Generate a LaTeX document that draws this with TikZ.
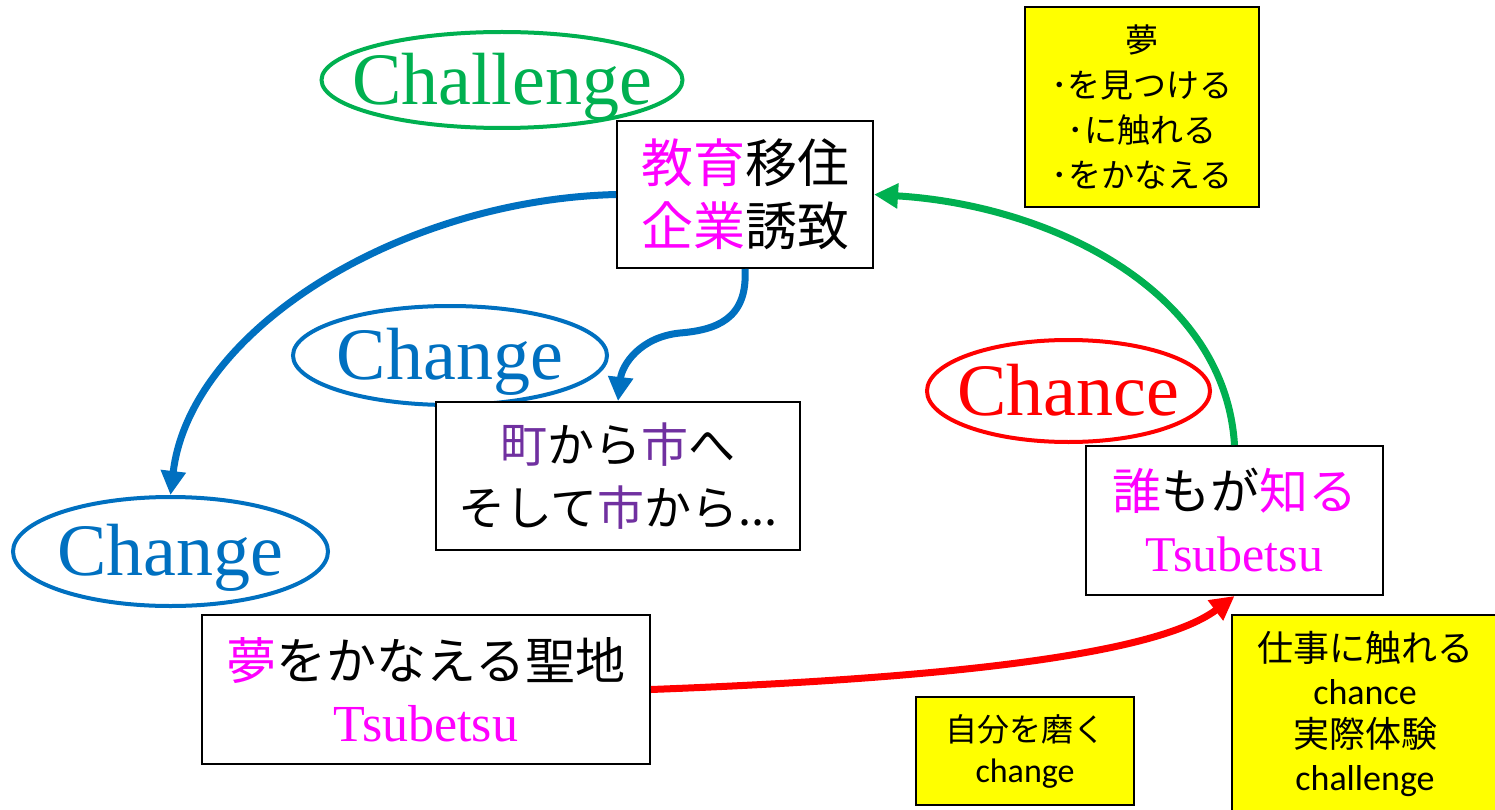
\documentclass[tikz,border=0pt]{standalone}
\usepackage{fontspec}
\setmainfont{Noto Sans CJK JP}
\newfontfamily\romanfont{Liberation Serif}
\newfontfamily\calfont{Carlito}
\usetikzlibrary{shapes.geometric,arrows.meta}
\definecolor{oGreen}{RGB}{0,176,80}
\definecolor{oBlue}{RGB}{0,112,192}
\definecolor{oRed}{RGB}{255,0,0}
\definecolor{oPink}{RGB}{255,0,255}
\definecolor{oPurple}{RGB}{112,48,160}
\definecolor{oYellow}{RGB}{255,255,0}
\newcommand{\pk}[1]{\textcolor{oPink}{#1}}
\newcommand{\pp}[1]{\textcolor{oPurple}{#1}}
% text that does not widen the ellipse around it
\newcommand{\ovaltext}[1]{\makebox[0pt]{\smash{\raisebox{-0.33em}{#1}}}}

\begin{document}
\begin{tikzpicture}[x=1pt, y=-1pt,
    box/.style={draw, line width=2pt, fill=white, inner sep=0pt, align=center},
    memo/.style={draw, line width=1.5pt, fill=oYellow, inner sep=0pt, align=center},
    oval/.style={draw, ellipse, line width=4pt, inner sep=0pt, font=\romanfont\fontsize{74}{74}\selectfont},
    flow/.style={line width=7pt, -{Triangle[length=24pt,width=24pt]}}]
			\clip (0,0) rectangle (1495,810);
			
			\node[oval, oGreen, minimum width=361pt, minimum height=96pt] (challenge) at (502,80) {\ovaltext{Challenge}};
			\node[box, minimum width=256pt, minimum height=147pt, font=\fontsize{52}{63}\selectfont] (kyoiku) at (745,194.5) {\pk{教育}移住\\\pk{企業}誘致};
			
			\node[oval, oBlue, minimum width=314pt, minimum height=99pt] (change1) at (450,355.5) {\ovaltext{Change}};
			\node[box, minimum width=364pt, minimum height=148pt, font=\fontsize{47}{63}\selectfont] (machi) at (618,476) {\pp{町}から\pp{市}へ\\そして\pp{市}から...};
			
			\node[oval, oBlue, minimum width=315pt, minimum height=109pt] (change2) at (170.5,551.5) {\ovaltext{Change}};
			\node[box, minimum width=448pt, minimum height=149pt, font=\fontsize{50}{62}\selectfont] (seichi) at (426,689.5) {\pk{夢}をかなえる聖地\\{\romanfont\fontsize{52}{62}\selectfont\color{oPink}Tsubetsu}};
			
			\node[oval, oRed, minimum width=283pt, minimum height=102pt] (chance) at (1068.5,391) {\ovaltext{Chance}};
			\node[box, minimum width=297pt, minimum height=149pt, font=\fontsize{49}{62}\selectfont] (dare) at (1234.5,520.5) {\pk{誰}もが\pk{知る}\\{\romanfont\fontsize{50}{62}\selectfont\color{oPink}Tsubetsu}};
			
			\node[memo, minimum width=234pt, minimum height=200pt, font=\fontsize{33}{45}\selectfont] (yume) at (1142,107) {夢\\･を見つける\\･に触れる\\･をかなえる};
			\node[memo, minimum width=218pt, minimum height=108pt, font=\fontsize{32}{41}\selectfont] (migaku) at (1025,751) {自分を磨く\\{\calfont\fontsize{34}{41}\selectfont change}};
			\node[memo, minimum width=266pt, minimum height=197pt, font=\fontsize{36}{43}\selectfont] (shigoto) at (1365,713.5) {仕事に触れる\\{\calfont chance}\\実際体験\\{\calfont challenge}};
			
			\draw[flow, oBlue] (kyoiku.west) .. controls (400,200) and (190,330) .. (change2.north);
			\coordinate (bend) at (680,333);
			\draw[flow, oBlue] (kyoiku.south) .. controls (748,320) and (715,330) .. (bend) .. controls (640,337) and (622,365) .. (machi.north);
			\draw[flow, oGreen] (dare.north) .. controls (1225,290) and (1050,205) .. (kyoiku.east);
			\draw[flow, oRed] (seichi.east) .. controls (900,680) and (1150,660) .. (dare.south);
		\end{tikzpicture}
\end{document}
